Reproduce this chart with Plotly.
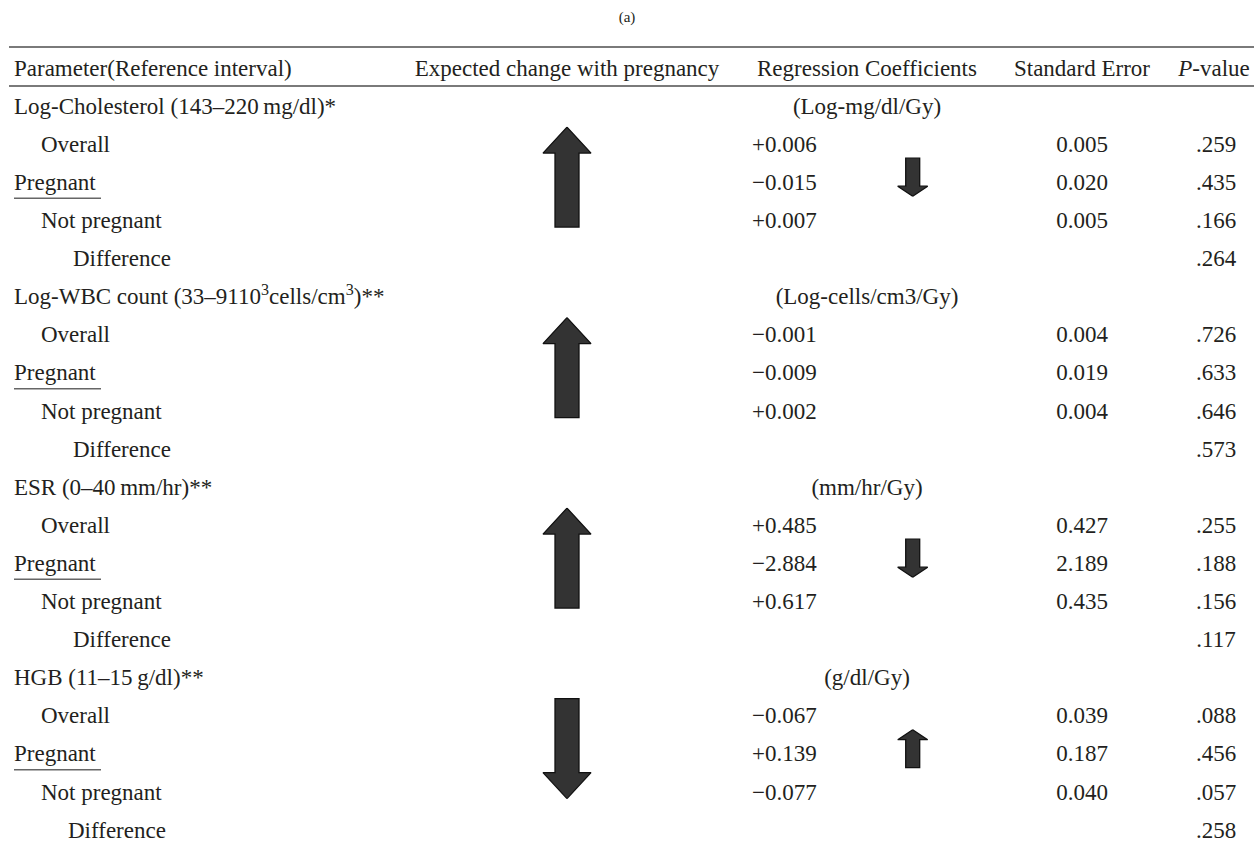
import plotly.graph_objects as go

# ---------------- data ----------------
panel_label = "(a)"
headers = ["Parameter(Reference interval)", "Expected change with pregnancy",
           "Regression Coefficients", "Standard Error", "<i>P</i>-value"]
params = ["Log-Cholesterol (143\u2013220\u2009mg/dl)*",
          "Log-WBC count (33\u20139110<sup>3</sup>cells/cm<sup>3</sup>)**",
          "ESR (0\u201340\u2009mm/hr)**",
          "HGB (11\u201315\u2009g/dl)**"]
units = ["(Log-mg/dl/Gy)", "(Log-cells/cm3/Gy)", "(mm/hr/Gy)", "(g/dl/Gy)"]
subrows = ["Overall", "Pregnant", "Not pregnant", "Difference"]
expected_dir = ["up", "up", "up", "down"]
pregnant_dir = ["down", None, "down", "up"]

coef_overall = [0.006, -0.001, 0.485, -0.067]
coef_preg = [-0.015, -0.009, -2.884, 0.139]
coef_notpreg = [0.007, 0.002, 0.617, -0.077]
se_overall = [0.005, 0.004, 0.427, 0.039]
se_preg = [0.020, 0.019, 2.189, 0.187]
se_notpreg = [0.005, 0.004, 0.435, 0.040]
p_overall = [0.259, 0.726, 0.255, 0.088]
p_preg = [0.435, 0.633, 0.188, 0.456]
p_notpreg = [0.166, 0.646, 0.156, 0.057]
p_diff = [0.264, 0.573, 0.117, 0.258]

# ---------------- layout constants ----------------
W, H = 1254, 844
ROW_Y0, ROW_STEP = 108, 38.1
HEADER_Y = 70
X_PARAM, X_IND1, X_IND2 = 14, 41, 73
X_EXP = 567
X_COEF = 752
X_COEF_CENTER = 867
X_SE = 1082
X_P = 1216
X_SMALL = 912.7
FONT = "Liberation Serif"
FS = 23
TXT = "#231f20"


def fmt_coef(v):
    return ("+" if v >= 0 else "\u2212") + f"{abs(v):.3f}"


def fmt_p(v):
    return f"{v:.3f}"[1:]


def row_y(i):
    return ROW_Y0 + ROW_STEP * i


fig = go.Figure()


def arrow(cx, top, bottom, head_h, head_hw, shaft_hw, direction):
    xs = [cx, cx + head_hw, cx + shaft_hw, cx + shaft_hw, cx - shaft_hw, cx - shaft_hw, cx - head_hw, cx]
    if direction == "up":
        ys = [top, top + head_h, top + head_h, bottom, bottom, top + head_h, top + head_h, top]
    else:
        ys = [bottom, bottom - head_h, bottom - head_h, top, top, bottom - head_h, bottom - head_h, bottom]
    fig.add_trace(go.Scatter(x=xs, y=ys, mode="lines", fill="toself",
                             fillcolor="#333333", line=dict(color="#111111", width=1.3),
                             hoverinfo="skip"))


left_x, left_y, left_t = [], [], []
cen_x, cen_y, cen_t = [], [], []
coef_x, coef_y, coef_t = [], [], []

for g in range(len(params)):
    base = g * 5
    left_x.append(X_PARAM); left_y.append(row_y(base)); left_t.append(params[g])
    cen_x.append(X_COEF_CENTER); cen_y.append(row_y(base)); cen_t.append(units[g])
    indents = [X_IND1, X_PARAM, X_IND1, X_IND2 if g < 3 else X_IND2 - 5]
    for k, name in enumerate(subrows):
        left_x.append(indents[k]); left_y.append(row_y(base + 1 + k)); left_t.append(name)
    coefs = [coef_overall[g], coef_preg[g], coef_notpreg[g]]
    ses = [se_overall[g], se_preg[g], se_notpreg[g]]
    ps = [p_overall[g], p_preg[g], p_notpreg[g], p_diff[g]]
    for k in range(3):
        coef_x.append(X_COEF); coef_y.append(row_y(base + 1 + k)); coef_t.append(fmt_coef(coefs[k]))
        cen_x.append(X_SE); cen_y.append(row_y(base + 1 + k)); cen_t.append(f"{ses[k]:.3f}")
    for k in range(4):
        cen_x.append(X_P); cen_y.append(row_y(base + 1 + k)); cen_t.append(fmt_p(ps[k]))

    # underline below "Pregnant"
    yu = row_y(base + 2) + 14
    fig.add_trace(go.Scatter(x=[X_PARAM, X_PARAM + 87], y=[yu, yu], mode="lines",
                             line=dict(color="#666666", width=1.5), hoverinfo="skip"))

    yo = row_y(base + 1)
    arrow(X_EXP, yo - 19, yo + 81, 26, 24, 12, expected_dir[g])
    if pregnant_dir[g]:
        yp = row_y(base + 2)
        arrow(X_SMALL, yp - 26, yp + 12, 10, 15, 7, pregnant_dir[g])

font = dict(family=FONT, size=FS, color=TXT)
fig.add_trace(go.Scatter(x=left_x, y=left_y, text=left_t, mode="text",
                         textposition="middle right", textfont=font, hoverinfo="skip"))
fig.add_trace(go.Scatter(x=coef_x, y=coef_y, text=coef_t, mode="text",
                         textposition="middle right", textfont=font, hoverinfo="skip"))
fig.add_trace(go.Scatter(x=cen_x, y=cen_y, text=cen_t, mode="text",
                         textposition="middle center", textfont=font, hoverinfo="skip"))

# header
hx = [X_PARAM, 567, 867, X_SE, 1214]
hpos = ["middle right", "middle center", "middle center", "middle center", "middle center"]
fig.add_trace(go.Scatter(x=hx[:1], y=[HEADER_Y], text=headers[:1], mode="text",
                         textposition="middle right", textfont=font, hoverinfo="skip"))
fig.add_trace(go.Scatter(x=hx[1:], y=[HEADER_Y] * 4, text=headers[1:], mode="text",
                         textposition="middle center", textfont=font, hoverinfo="skip"))

fig.add_trace(go.Scatter(x=[W / 2], y=[18], text=[panel_label], mode="text",
                         textposition="middle center",
                         textfont=dict(family=FONT, size=15, color=TXT), hoverinfo="skip"))

for yl in [47, 86]:
    fig.add_shape(type="line", x0=9, x1=W, y0=yl, y1=yl, xref="x", yref="y",
                  line=dict(color="#7a7a7a", width=2))

fig.update_layout(
    width=W, height=H, margin=dict(l=0, r=0, t=0, b=0),
    paper_bgcolor="white", plot_bgcolor="white", showlegend=False,
    xaxis=dict(range=[0, W], visible=False, fixedrange=True),
    yaxis=dict(range=[H, 0], visible=False, fixedrange=True),
)
fig.write_html("out.html", config={"displayModeBar": False},
               post_script="document.body.style.margin='0';document.body.style.overflow='hidden';")
